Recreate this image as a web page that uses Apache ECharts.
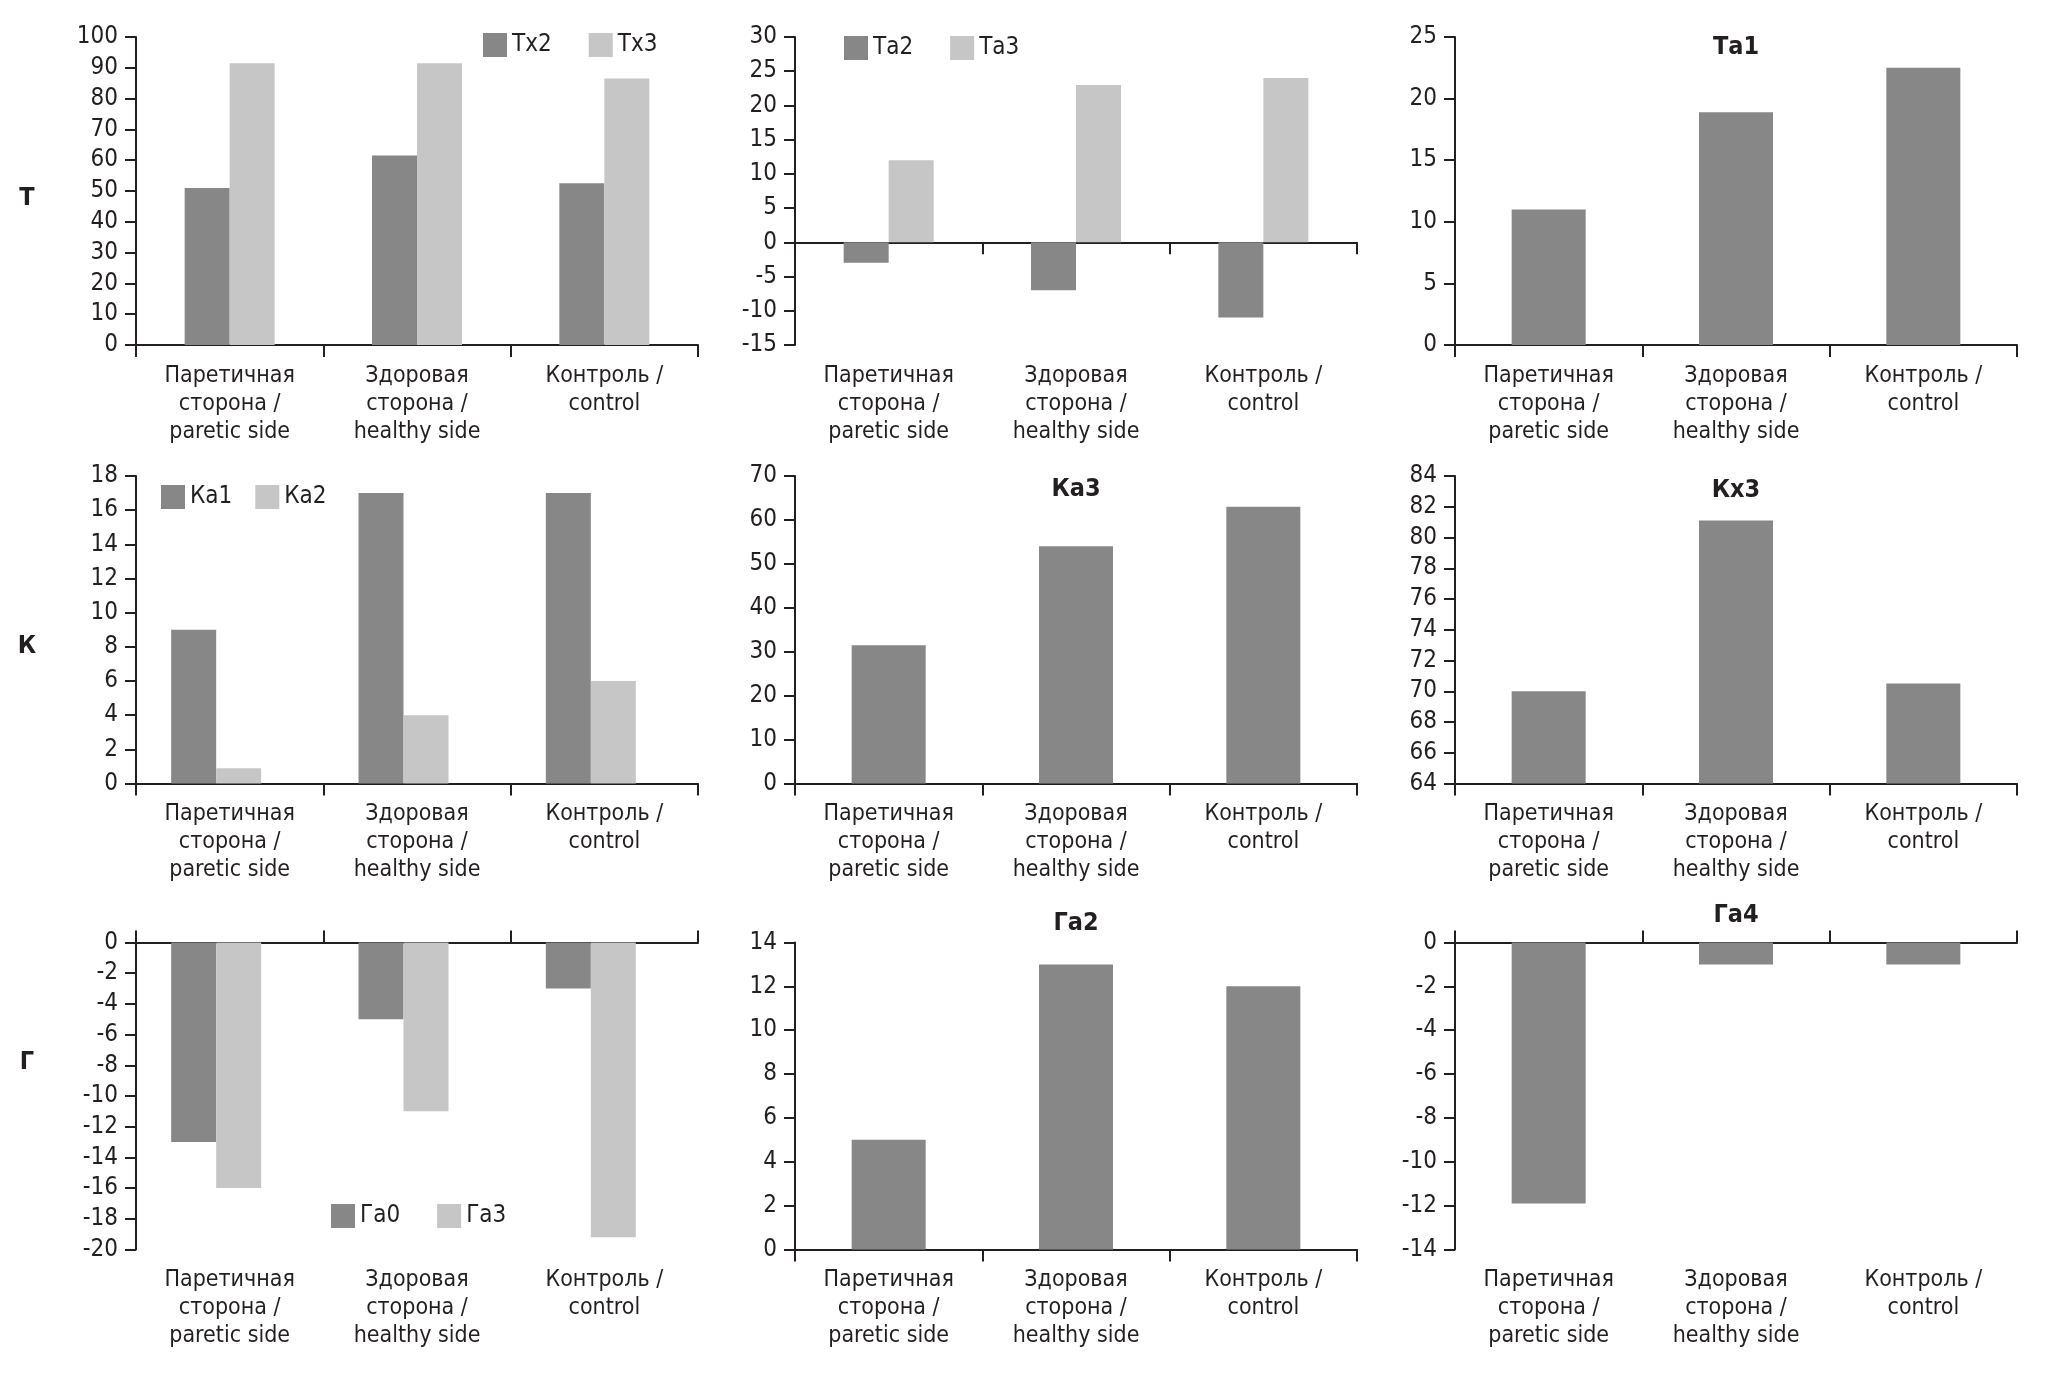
<!DOCTYPE html>
<html>
<head>
<meta charset="utf-8">
<script src="https://cdn.jsdelivr.net/npm/echarts@6/dist/echarts.min.js"></script>
<style>
html,body{margin:0;padding:0;background:#fff;}
#c{width:2049px;height:1373px;}
</style>
</head>
<body>
<div id="c"></div>
<script>
// ---- data ----
const categories = ['Паретичная\nсторона /\nparetic side', 'Здоровая\nсторона /\nhealthy side', 'Контроль /\ncontrol'];
const tx2 = [51, 61.5, 52.5];
const tx3 = [91.5, 91.5, 86.5];
const ta2 = [-3, -7, -11];
const ta3 = [12, 23, 24];
const ta1 = [11, 18.9, 22.5];
const ka1 = [9, 17, 17];
const ka2 = [0.9, 4, 6];
const ka3 = [31.5, 54, 63];
const kx3 = [70, 81.1, 70.5];
const ga0 = [-13, -5, -3];
const ga3 = [-16, -11, -19.2];
const ga2 = [5, 13, 12];
const ga4 = [-11.9, -1, -1];
// y-axis ranges [min, max, interval]
const yT1 = [0, 100, 10];
const yT2 = [-15, 30, 5];
const yT3 = [0, 25, 5];
const yK1 = [0, 18, 2];
const yK2 = [0, 70, 10];
const yK3 = [64, 84, 2];
const yG1 = [-20, 0, 2];
const yG2 = [0, 14, 2];
const yG3 = [-14, 0, 2];
const rowLabels = ['Т', 'К', 'Г'];

// ---- style ----
const FONT = "'DejaVu Sans Condensed', 'Liberation Sans Narrow', 'Roboto', sans-serif";
const DARK = '#878787';
const LIGHT = '#c6c6c6';
const INK = '#231f20';

const colLeft = [136, 795, 1455];
const colWidth = 562;
const rowTop = [37, 476, 942.5];
const rowHeight = [308, 307.5, 307];

const panels = [
  {r:0, c:0, y:yT1, series:[['Тх2', tx2, DARK], ['Тх3', tx3, LIGHT]], mode:'bottom'},
  {r:0, c:1, y:yT2, series:[['Та2', ta2, DARK], ['Та3', ta3, LIGHT]], mode:'zero'},
  {r:0, c:2, y:yT3, series:[['Та1', ta1, DARK]], mode:'bottom', title:'Та1'},
  {r:1, c:0, y:yK1, series:[['Ка1', ka1, DARK], ['Ка2', ka2, LIGHT]], mode:'bottom', shift:true},
  {r:1, c:1, y:yK2, series:[['Ка3', ka3, DARK]], mode:'bottom', title:'Ка3'},
  {r:1, c:2, y:yK3, series:[['Кх3', kx3, DARK]], mode:'bottom', title:'Кх3'},
  {r:2, c:0, y:yG1, series:[['Га0', ga0, DARK], ['Га3', ga3, LIGHT]], mode:'top', shift:true},
  {r:2, c:1, y:yG2, series:[['Га2', ga2, DARK]], mode:'bottom', title:'Га2'},
  {r:2, c:2, y:yG3, series:[['Га4', ga4, DARK]], mode:'top', title:'Га4'}
];
const titleTops = [47, 489, 490, 923, 915];

const grid = [], xAxis = [], yAxis = [], series = [], graphic = [];
const lineStyle = {color: INK, width: 2};
const labelStyle = {fontFamily: FONT, fontSize: 23, color: INK, lineHeight: 28, margin: 17};

panels.forEach((p, i) => {
  grid.push({left: colLeft[p.c], top: rowTop[p.r], width: colWidth, height: rowHeight[p.r], containLabel: false});
  yAxis.push({
    gridIndex: i, type: 'value', min: p.y[0], max: p.y[1], interval: p.y[2],
    axisLine: {show: true, onZero: false, lineStyle: lineStyle},
    axisTick: {show: true, length: 11, lineStyle: lineStyle},
    axisLabel: {fontFamily: FONT, fontSize: 24, color: INK, margin: 18},
    splitLine: {show: false}
  });
  const lineAxisIdx = xAxis.length;
  xAxis.push({
    gridIndex: i, type: 'category', data: categories,
    position: p.mode === 'top' ? 'top' : 'bottom',
    axisLine: {show: true, onZero: p.mode === 'zero', lineStyle: lineStyle},
    axisTick: {show: true, length: 12, lineStyle: lineStyle},
    axisLabel: Object.assign({show: p.mode === 'bottom', interval: 0}, labelStyle),
    splitLine: {show: false}
  });
  if (p.mode !== 'bottom') {
    xAxis.push({
      gridIndex: i, type: 'category', data: categories, position: 'bottom',
      axisLine: {show: false, onZero: false},
      axisTick: {show: false},
      axisLabel: Object.assign({show: true, interval: 0}, labelStyle),
      splitLine: {show: false}
    });
  }
  const single = p.series.length === 1;
  p.series.forEach(s => {
    series.push({
      type: 'bar', name: s[0], data: s[1], xAxisIndex: lineAxisIdx, yAxisIndex: i,
      barWidth: single ? 74 : 45, barGap: '0%',
      itemStyle: {color: s[2]}, silent: true, animation: false
    });
  });
  if (p.shift) {
    series.push({
      type: 'bar', name: '_pad' + i, data: [null, null, null], xAxisIndex: lineAxisIdx, yAxisIndex: i,
      barWidth: 27, barGap: '0%', itemStyle: {color: 'transparent'}, silent: true, animation: false
    });
  }
});

// titles of single-series panels
let ti = 0;
panels.forEach(p => {
  if (p.title) {
    graphic.push({
      type: 'text', x: colLeft[p.c] + colWidth / 2, y: titleTops[ti++],
      style: {text: p.title, font: 'bold 25px ' + FONT, fill: INK, align: 'center', verticalAlign: 'middle'}
    });
  }
});
// row labels
const rowLabelY = [198, 646, 1062];
rowLabels.forEach((t, k) => {
  graphic.push({
    type: 'text', x: 27, y: rowLabelY[k],
    style: {text: t, font: 'bold 25px ' + FONT, fill: INK, align: 'center', verticalAlign: 'middle'}
  });
});

const legendBase = {
  icon: 'rect', itemWidth: 24, itemHeight: 24, padding: 0, selectedMode: false, orient: 'horizontal',
  textStyle: {fontFamily: FONT, fontSize: 24, color: INK}
};
const legend = [
  Object.assign({data: ['Тх2', 'Тх3'], left: 483, top: 33, itemGap: 37}, legendBase),
  Object.assign({data: ['Та2', 'Та3'], left: 844, top: 36, itemGap: 37}, legendBase),
  Object.assign({data: ['Ка1', 'Ка2'], left: 161, top: 485, itemGap: 23}, legendBase),
  Object.assign({data: ['Га0', 'Га3'], left: 331, top: 1204, itemGap: 37}, legendBase)
];

const chart = echarts.init(document.getElementById('c'), null, {renderer: 'canvas'});
chart.setOption({
  backgroundColor: '#ffffff',
  animation: false,
  grid: grid, xAxis: xAxis, yAxis: yAxis, series: series, legend: legend, graphic: graphic
});
</script>
</body>
</html>
